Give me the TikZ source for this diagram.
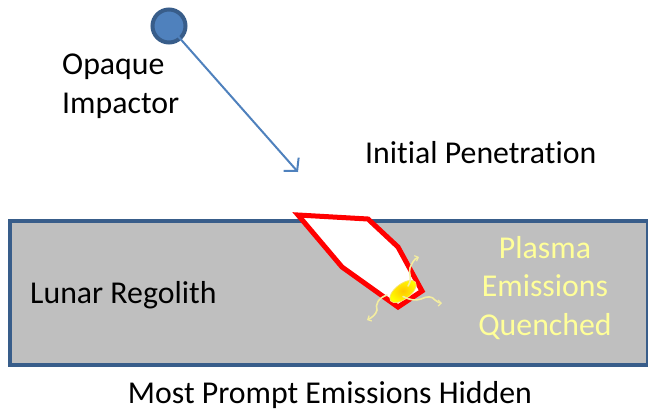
\documentclass[tikz,border=0pt]{standalone}
\usepackage{fontspec}
\setmainfont{Carlito}[Ligatures=NoCommon]
\usetikzlibrary{arrows.meta,shapes.geometric}
\definecolor{accblue}{HTML}{4F81BD}
\definecolor{darkblue}{HTML}{385D8A}
\definecolor{regolith}{HTML}{BFBFBF}
\definecolor{plasmatext}{HTML}{FFFF99}
\definecolor{squig}{HTML}{F3EDA0}
\definecolor{blobedge}{HTML}{F7E26B}
\tikzset{
  lbl/.style={inner sep=0pt, font=\fontsize{31.8}{38.5}\selectfont},
  squiggle/.style={squig, line width=1.6pt, line cap=round,
    -{Straight Barb[length=3pt,width=6pt,line width=1.2pt]}},
}
\begin{document}
\begin{tikzpicture}[x=1pt,y=-1pt]
\useasboundingbox (0,0) rectangle (648,410);
% regolith block
\node[draw=darkblue, line width=4pt, fill=regolith, inner sep=0pt,
  minimum width=637.5pt, minimum height=144pt, anchor=north west] (reg) at (8,219) {};
% penetration channel
\draw[red, line width=5pt, fill=white, line join=miter]
  (298,215) coordinate (c1) -- (368,219) coordinate (c2) -- (398,247) coordinate (c3)
  -- (422,291) coordinate (c4) -- (398,307) coordinate (c5) -- (342,267) coordinate (c6) -- cycle;
% plasma blob
\node[ellipse, inner sep=0pt, minimum width=31pt, minimum height=15pt, rotate=37,
  draw=blobedge, line width=0.8pt, inner color=yellow!55!orange, outer color=yellow] (blob) at (403,291.5) {};
% emission squiggles
\coordinate (s1a) at (408,286);
\coordinate (s1b) at (419,257);
\coordinate (s2a) at (387,295);
\coordinate (s2b) at (367,320);
\coordinate (s3a) at (403,296.5);
\coordinate (s3b) at (442,303);
\draw[squiggle] (s1a) .. controls (413,279) and (408,272) .. (410,268)
  .. controls (412,263) and (414,259) .. (s1b);
\draw[squiggle] (s2a) .. controls (378,298) and (375,305) .. (377,310)
  .. controls (376,315) and (371,318) .. (s2b);
\draw[squiggle] (s3a) .. controls (410,300) and (415,301) .. (421,299)
  .. controls (427,296) and (432,296) .. (435,300)
  .. controls (437,302) and (440,303) .. (s3b);
% impactor
\node[circle, draw=darkblue, fill=accblue, line width=4pt, minimum size=33pt, inner sep=0pt] (imp) at (169,26) {};
\coordinate (hit) at (298,172);
\draw[accblue, line width=2pt, -{Straight Barb[length=9pt,width=20pt,line width=2pt]}] (imp.center) -- (hit);
% labels
\node[lbl, anchor=base west, align=left] (opq) at (62,113) {Opaque\\Impactor};
\node[lbl, anchor=base west] (pen) at (365,163) {Initial Penetration};
\node[lbl, anchor=base west] (lun) at (30,303) {Lunar Regolith};
\node[lbl, anchor=base, align=center, text=plasmatext] (pls) at (545,335) {Plasma\\Emissions\\Quenched};
\node[lbl, anchor=base] (hid) at (330,403) {Most Prompt Emissions Hidden};
\end{tikzpicture}
\end{document}
